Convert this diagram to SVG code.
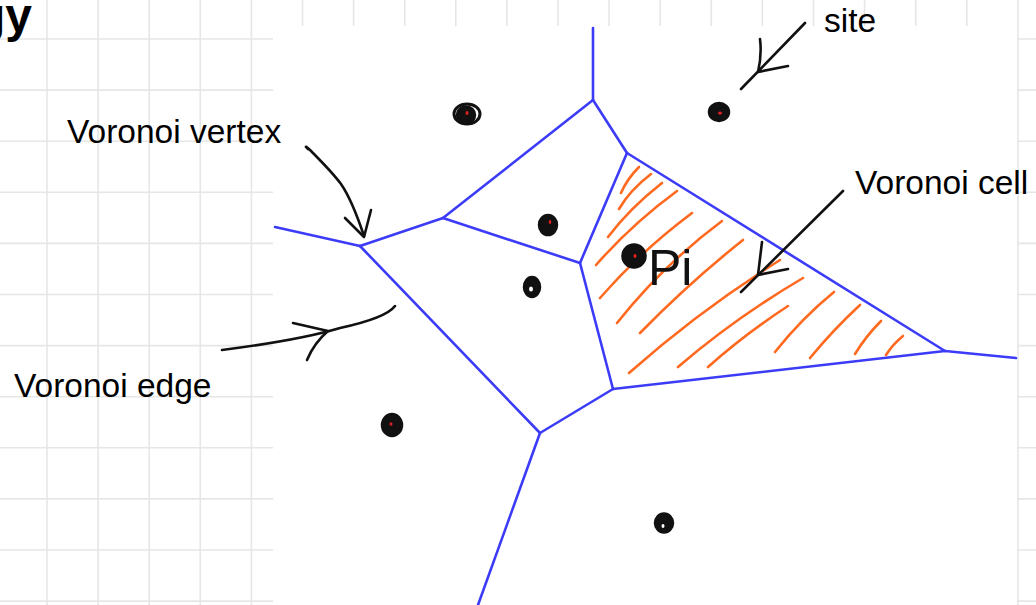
<svg xmlns="http://www.w3.org/2000/svg" width="1036" height="605" viewBox="0 0 1036 605">
<style>
.grid line{stroke:#e6e6e6;stroke-width:1.6}
.edge{stroke:#3c3cf8;stroke-width:2.6;fill:none;stroke-linecap:round;stroke-linejoin:round}
.hatch{stroke:#ff6a20;stroke-width:2.6;fill:none;stroke-linecap:round}
.ink{stroke:#111;stroke-width:2.6;fill:none;stroke-linecap:round;stroke-linejoin:round}
.lbl{font-family:"Liberation Sans",Arial,sans-serif;font-size:33.5px;fill:#000}
.site{fill:#111;stroke:#111;stroke-width:2.5}
.core{fill:#e02020}
</style>
<rect width="1036" height="605" fill="#fff"/>
<g id="grid" class="grid">
<line x1="47" y1="0" x2="47" y2="605"/><line x1="98.1" y1="0" x2="98.1" y2="605"/><line x1="149.2" y1="0" x2="149.2" y2="605"/><line x1="200.3" y1="0" x2="200.3" y2="605"/><line x1="251.4" y1="0" x2="251.4" y2="605"/><line x1="302.5" y1="0" x2="302.5" y2="605"/><line x1="353.6" y1="0" x2="353.6" y2="605"/><line x1="404.7" y1="0" x2="404.7" y2="605"/><line x1="455.8" y1="0" x2="455.8" y2="605"/><line x1="506.9" y1="0" x2="506.9" y2="605"/><line x1="558" y1="0" x2="558" y2="605"/><line x1="609.1" y1="0" x2="609.1" y2="605"/><line x1="660.2" y1="0" x2="660.2" y2="605"/><line x1="711.3" y1="0" x2="711.3" y2="605"/><line x1="762.4" y1="0" x2="762.4" y2="605"/><line x1="813.5" y1="0" x2="813.5" y2="605"/><line x1="864.6" y1="0" x2="864.6" y2="605"/><line x1="915.7" y1="0" x2="915.7" y2="605"/><line x1="966.8" y1="0" x2="966.8" y2="605"/><line x1="1018" y1="0" x2="1018" y2="605"/>
<line x1="0" y1="39" x2="1036" y2="39"/><line x1="0" y1="90.1" x2="1036" y2="90.1"/><line x1="0" y1="141.2" x2="1036" y2="141.2"/><line x1="0" y1="192.3" x2="1036" y2="192.3"/><line x1="0" y1="243.4" x2="1036" y2="243.4"/><line x1="0" y1="294.5" x2="1036" y2="294.5"/><line x1="0" y1="345.6" x2="1036" y2="345.6"/><line x1="0" y1="396.7" x2="1036" y2="396.7"/><line x1="0" y1="447.8" x2="1036" y2="447.8"/><line x1="0" y1="498.9" x2="1036" y2="498.9"/><line x1="0" y1="550" x2="1036" y2="550"/><line x1="0" y1="601.1" x2="1036" y2="601.1"/>
</g>
<rect id="canvas" x="273" y="26" width="744" height="579" fill="#fff"/>
<text id="title" x="32" y="32" text-anchor="end" style="font-family:'Liberation Sans',Arial,sans-serif;font-size:48px;font-weight:bold">gy</text>
<g id="cell-hatch">
<path class="hatch" d="M621,193 Q627,179 639,167"/>
<path class="hatch" d="M619,209 Q630,190 651,174"/>
<path class="hatch" d="M608,237 Q630,208 662,183"/>
<path class="hatch" d="M596,265 Q632,224 677,191"/>
<path class="hatch" d="M600,298 Q640,252 692,213"/>
<path class="hatch" d="M617,323 Q664,264 722,221"/>
<path class="hatch" d="M640,333 Q690,282 743,240"/>
<path class="hatch" d="M629,373 Q700,310 780,260"/>
<path class="hatch" d="M678,367 Q735,318 803,278"/>
<path class="hatch" d="M708,367 Q745,334 788,306"/>
<path class="hatch" d="M775,352 Q802,318 834,292"/>
<path class="hatch" d="M810,358 Q833,330 860,305"/>
<path class="hatch" d="M855,354 Q866,336 881,321"/>
<path class="hatch" d="M886,355 Q893,344 903,336"/>
</g>
<g id="connectors">
<g id="voronoi-edges">
<path class="edge" d="M593,28 L593,100"/>
<path class="edge" d="M593,100 L627,153"/>
<path class="edge" d="M593,100 L443,218"/>
<path class="edge" d="M443,218 L360,246"/>
<path class="edge" d="M360,246 L275,227"/>
<path class="edge" d="M443,218 L580,263"/>
<path class="edge" d="M627,153 L580,263"/>
<path class="edge" d="M580,263 L613,389"/>
<path class="edge" d="M627,153 L945,351"/>
<path class="edge" d="M613,389 L945,351"/>
<path class="edge" d="M945,351 L1016,358"/>
<path class="edge" d="M360,246 L540,433"/>
<path class="edge" d="M613,389 L540,433"/>
<path class="edge" d="M540,433 L478,605"/>
</g>
<g id="arrow-vertex">
<path class="ink" d="M308,149 Q303,144 310,150 Q332,172 341,184 Q352,200 364,236"/>
<path class="ink" d="M345,218 L364,237 L371,210"/>
</g>
<g id="arrow-edge">
<path class="ink" d="M222,350 Q300,340 340,328 Q386,318 395,306"/>
<path class="ink" d="M293,323 L328,331 Q314,343 307,360"/>
</g>
<g id="arrow-site">
<path class="ink" d="M805,23 L741,89"/>
<path class="ink" d="M760,39 Q762,55 758,72 L788,66"/>
</g>
<g id="arrow-cell">
<path class="ink" d="M843,191 L741,292"/>
<path class="ink" d="M762,242 Q760,258 758,275 L788,269"/>
</g>
</g>
<g id="sites">
<g id="site-1"><ellipse cx="467" cy="114" rx="13" ry="10" fill="none" stroke="#111" stroke-width="3"/><ellipse class="site" cx="466" cy="115" rx="9" ry="8.5"/><ellipse class="core" cx="467" cy="113" rx="1.5" ry="2"/></g>
<g id="site-2"><ellipse class="site" cx="548" cy="225" rx="9" ry="10"/><ellipse class="core" cx="550" cy="222" rx="1.3" ry="2"/></g>
<g id="site-3"><ellipse class="site" cx="532" cy="287" rx="8" ry="10"/><ellipse cx="531" cy="289" rx="2" ry="2.5" fill="#fff"/></g>
<g id="site-4"><ellipse class="site" cx="392" cy="425" rx="10" ry="11"/><ellipse cx="392" cy="432" rx="5" ry="4" fill="none" stroke="#111" stroke-width="2"/><ellipse class="core" cx="391" cy="424" rx="1.5" ry="1.8"/></g>
<g id="site-5"><ellipse class="site" cx="664" cy="523" rx="9" ry="9.5"/><ellipse cx="663" cy="526" rx="1.5" ry="2" fill="#fff"/></g>
<g id="site-6"><ellipse class="site" cx="719" cy="112" rx="10" ry="9"/><ellipse class="core" cx="720" cy="113" rx="2" ry="1.5"/></g>
<g id="site-pi"><ellipse class="site" cx="634" cy="256" rx="11.5" ry="11.5"/><ellipse class="core" cx="635" cy="256" rx="1.5" ry="2"/>
<text x="648" y="285" style="font-family:'Liberation Sans',Arial,sans-serif;font-size:50px;fill:#111">Pi</text></g>
</g>
<g id="labels">
<text class="lbl" x="67" y="143">Voronoi vertex</text>
<text class="lbl" x="14" y="397">Voronoi edge</text>
<text class="lbl" x="824" y="32">site</text>
<text class="lbl" x="855" y="194">Voronoi cell</text>
</g>
</svg>
